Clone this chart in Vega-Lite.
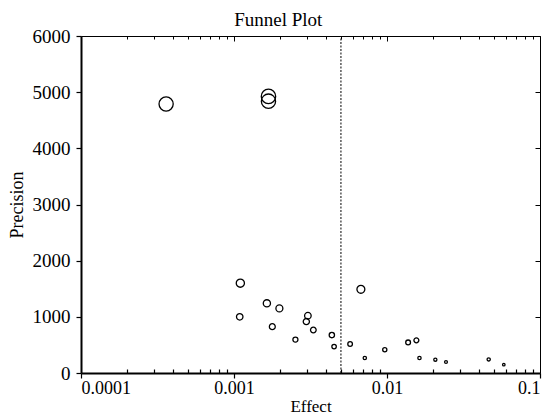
{
  "$schema": "https://vega.github.io/schema/vega-lite/v6.json",
  "autosize": "none",
  "width": 459,
  "height": 337,
  "padding": {"left": 81, "top": 36, "right": 14, "bottom": 41},
  "background": "white",
  "title": {"text": "Funnel Plot", "font": "Liberation Serif", "fontSize": 19, "fontWeight": "normal", "color": "black", "frame": "bounds", "anchor": "middle", "offset": -3, "dx": 4},
  "config": {
    "view": {"stroke": null},
    "axis": {"labelFont": "Liberation Serif", "titleFont": "Liberation Serif", "labelColor": "black", "titleColor": "black", "domainColor": "black", "tickColor": "black", "grid": false, "titleFontWeight": "normal"}
  },
  "datasets": {
    "studies": [
      {"Effect": 0.00036, "Precision": 4790},
      {"Effect": 0.00168, "Precision": 4840},
      {"Effect": 0.00168, "Precision": 4925},
      {"Effect": 0.00110, "Precision": 1600},
      {"Effect": 0.00109, "Precision": 1000},
      {"Effect": 0.00164, "Precision": 1240},
      {"Effect": 0.00198, "Precision": 1150},
      {"Effect": 0.00178, "Precision": 825},
      {"Effect": 0.00252, "Precision": 595},
      {"Effect": 0.00304, "Precision": 1020},
      {"Effect": 0.00297, "Precision": 915},
      {"Effect": 0.00330, "Precision": 765},
      {"Effect": 0.00436, "Precision": 675},
      {"Effect": 0.00451, "Precision": 470},
      {"Effect": 0.00675, "Precision": 1490},
      {"Effect": 0.00574, "Precision": 517},
      {"Effect": 0.00716, "Precision": 267},
      {"Effect": 0.00967, "Precision": 415},
      {"Effect": 0.01374, "Precision": 545},
      {"Effect": 0.01556, "Precision": 581},
      {"Effect": 0.0163, "Precision": 267},
      {"Effect": 0.0207, "Precision": 237},
      {"Effect": 0.0243, "Precision": 196},
      {"Effect": 0.0462, "Precision": 242},
      {"Effect": 0.058, "Precision": 148}
    ],
    "mean": [{"Effect": 0.005}]
  },
  "resolve": {"axis": {"x": "independent", "y": "independent"}},
  "layer": [
    {
      "data": {"name": "studies"},
      "mark": {"type": "point", "shape": "circle", "filled": false, "stroke": "black", "strokeWidth": 1.3, "opacity": 1},
      "encoding": {
        "x": {
          "field": "Effect", "type": "quantitative",
          "scale": {"type": "log", "domain": [0.0001, 0.1], "nice": false},
          "axis": {
            "orient": "bottom", "title": "Effect", "titleFontSize": 17, "titlePadding": 1,
            "labelFontSize": 18, "labelPadding": 1, "domainWidth": 2, "tickWidth": 1.2,
            "values": [0.0001,0.0002,0.0003,0.0004,0.0005,0.0006,0.0007,0.0008,0.0009,0.001,0.002,0.003,0.004,0.005,0.006,0.007,0.008,0.009,0.01,0.02,0.03,0.04,0.05,0.06,0.07,0.08,0.09,0.1],
            "format": "~g",
            "labelExpr": "indexof([0.0001,0.001,0.01,0.1], datum.value) >= 0 ? datum.label : ''",
            "labelOverlap": false,
            "tickSize": {"condition": {"test": "indexof([0.0001,0.001,0.01,0.1], datum.value) >= 0", "value": 5}, "value": -4}
          }
        },
        "y": {
          "field": "Precision", "type": "quantitative",
          "scale": {"domain": [0, 6000], "nice": false},
          "axis": {
            "orient": "left", "title": "Precision", "titleFontSize": 18, "titlePadding": 6,
            "labelFontSize": 19, "labelPadding": 6, "domainWidth": 2, "tickWidth": 1.2, "tickSize": 5,
            "format": "d",
            "values": [0, 1000, 2000, 3000, 4000, 5000, 6000]
          }
        },
        "size": {
          "field": "Precision", "type": "quantitative",
          "scale": {"type": "linear", "domain": [0, 5000], "range": [0, 210], "zero": true},
          "legend": null
        }
      }
    },
    {
      "data": {"name": "mean"},
      "mark": {"type": "rule", "stroke": "black", "strokeWidth": 1, "strokeDash": [2, 1.5]},
      "encoding": {
        "x": {
          "field": "Effect", "type": "quantitative",
          "axis": {
            "orient": "top", "title": null, "labels": false, "domainWidth": 1, "tickWidth": 1,
            "values": [0.0001,0.0002,0.0003,0.0004,0.0005,0.0006,0.0007,0.0008,0.0009,0.001,0.002,0.003,0.004,0.005,0.006,0.007,0.008,0.009,0.01,0.02,0.03,0.04,0.05,0.06,0.07,0.08,0.09,0.1],
            "tickSize": {"condition": {"test": "indexof([0.0001,0.001,0.01,0.1], datum.value) >= 0", "value": -5}, "value": -3}
          }
        },
        "y": {"datum": 0, "type": "quantitative", "axis": {"orient": "right", "title": null, "labels": false, "domainWidth": 1, "tickWidth": 1, "tickSize": -5, "values": [0, 1000, 2000, 3000, 4000, 5000, 6000]}},
        "y2": {"datum": 6000}
      }
    }
  ]
}
